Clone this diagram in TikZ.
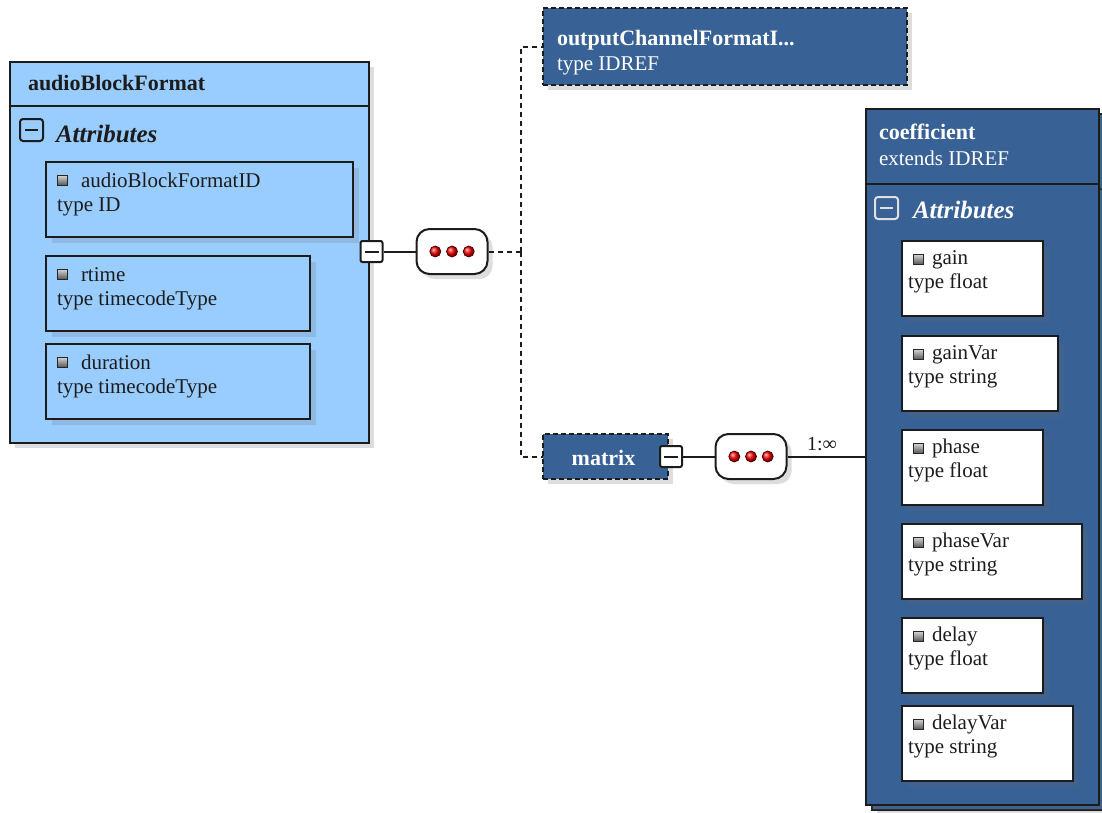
\documentclass[tikz,border=0pt]{standalone}
\usepackage{fontspec}
\setmainfont{Liberation Serif}
\usetikzlibrary{shadows}
\definecolor{lightbl}{RGB}{153,204,255}
\definecolor{darkbl}{RGB}{56,98,150}
\definecolor{ink}{RGB}{28,28,28}
\newcommand{\freg}{\fontsize{21}{24}\selectfont}
\newcommand{\fbold}{\fontsize{22}{24}\selectfont\bfseries}
\newcommand{\fattr}{\fontsize{25}{28}\selectfont\bfseries\itshape}
\tikzset{
  shad/.style={drop shadow={shadow xshift=5pt, shadow yshift=-5pt, opacity=0.22, fill=black!60}},
  elbox/.style={anchor=north west, inner sep=0pt, outer sep=0pt, draw=ink, line width=2pt, shad},
  lightbox/.style={elbox, fill=lightbl},
  darkbox/.style={elbox, fill=darkbl},
  refbox/.style={elbox, fill=darkbl, dash pattern=on 5pt off 3pt},
  attrbox/.style={anchor=north west, inner sep=0pt, outer sep=0pt, draw=ink, line width=2pt,
     drop shadow={shadow xshift=6pt, shadow yshift=-6pt, opacity=0.18, fill=black!60}, minimum height=75pt},
  txt/.style={anchor=base west, inner sep=0pt, outer sep=0pt, font=\freg, text=ink},
  ttl/.style={anchor=base west, inner sep=0pt, outer sep=0pt, font=\fbold, text=ink},
  atl/.style={anchor=base west, inner sep=0pt, outer sep=0pt, font=\fattr, text=ink},
  aicon/.style={minimum size=10pt, inner sep=0pt, draw=black!85, line width=0.7pt, top color=white!85!black, bottom color=black!65},
  toggle/.style={minimum width=22pt, minimum height=21pt, inner sep=0pt, draw=ink, fill=white, line width=2pt, rounded corners=2pt,
     path picture={\draw[ink, line width=2pt] ([xshift=4pt]path picture bounding box.west) -- ([xshift=-4pt]path picture bounding box.east);}},
  seqbox/.style={minimum width=71pt, minimum height=45pt, inner sep=0pt, draw=ink, fill=white, line width=2pt, rounded corners=13pt, shad},
  conn/.style={draw=ink, line width=2pt},
  dconn/.style={conn, dash pattern=on 5pt off 4pt},
}
\newcommand{\attrL}[6]{%
  \node[attrbox, fill=lightbl, minimum width=#4pt] (#1) at (#2,#3) {};
  \node[aicon] (#1i) at ([shift={(16.5,18)}]#1.north west) {};
  \node[txt] (#1n) at ([shift={(35,25)}]#1.north west) {#5};
  \node[txt] (#1t) at ([shift={(11,49)}]#1.north west) {type #6};
}
\newcommand{\attrR}[6]{%
  \node[attrbox, fill=white, minimum width=#4pt] (#1) at (#2,#3) {};
  \node[aicon] (#1i) at ([shift={(16,18)}]#1.north west) {};
  \node[txt] (#1n) at ([shift={(30,23)}]#1.north west) {#5};
  \node[txt] (#1t) at ([shift={(6,47)}]#1.north west) {type #6};
}
\newcommand{\ballset}[1]{%
  \foreach \d in {-16.7,0,16.7} {
    \shade[ball color=red] ([xshift=\d pt]#1.center) circle (5.5pt);
    \draw[red!25!black, line width=0.7pt] ([xshift=\d pt]#1.center) circle (5.5pt);
  }
}
\begin{document}
\begin{tikzpicture}[x=1pt,y=-1pt]
\useasboundingbox (0,0) rectangle (1102,812);
\fill[white] (0,0) rectangle (1102,812);
\clip (0,0) rectangle (1102,812);

% audioBlockFormat
\node[lightbox, minimum width=359pt, minimum height=381pt] (abf) at (10,62) {};
\draw[ink, line width=2pt] (10,106) -- (369,106);
\node[ttl] (abft) at (28,90) {audioBlockFormat};
\draw[ink, line width=2pt, rounded corners=3pt] (20,119) rectangle (43,141);
\draw[ink, line width=2pt] (25,130) -- (38,130);
\node[atl] (abfa) at (56,142) {Attributes};
\attrL{a1}{46}{162}{307}{audioBlockFormatID}{ID}
\attrL{a2}{46}{256}{264}{rtime}{timecodeType}
\attrL{a3}{46}{344}{264}{duration}{timecodeType}

% outputChannelFormatIDRef
\node[refbox, minimum width=364pt, minimum height=77pt] (oc) at (543,8) {};
\node[ttl, text=white] (oct) at (557,45) {outputChannelFormatI...};
\node[txt, text=white] (ocs) at (557,70) {type IDREF};

% matrix
\node[refbox, minimum width=125pt, minimum height=45pt] (mat) at (543,434) {};
\node[font=\fbold, text=white, inner sep=0pt] (matt) at ([xshift=-2pt,yshift=-1pt]mat.center) {matrix};

% coefficient (stacked)
\node[darkbox, minimum width=232pt, minimum height=696pt] (coefB) at (872,114) {};
\draw[ink, line width=2pt] (1099,189) -- (1104,189);
\node[darkbox, minimum width=233pt, minimum height=696pt] (coef) at (866,109) {};
\draw[ink, line width=2pt] (866,184) -- (1099,184);
\node[ttl, text=white] (coeft) at (879,139) {coefficient};
\node[txt, text=white] (coefs) at (879,165) {extends IDREF};
\draw[white!88!black, line width=2pt, rounded corners=3pt] (875,197) rectangle (898,219);
\draw[white!88!black, line width=2pt] (880,208) -- (893,208);
\node[atl, text=white] (coefa) at (913,218) {Attributes};
\attrR{c1}{902}{241}{141}{gain}{float}
\attrR{c2}{902}{336}{156}{gainVar}{string}
\attrR{c3}{902}{430}{141}{phase}{float}
\attrR{c4}{902}{524}{180}{phaseVar}{string}
\attrR{c5}{902}{618}{141}{delay}{float}
\attrR{c6}{902}{706}{171}{delayVar}{string}

% toggles and sequence compositors
\node[toggle] (abfT) at (371.5,251.5) {};
\node[seqbox] (seq1) at (452,251.5) {};
\ballset{seq1}
\node[toggle] (matT) at (671,456.5) {};
\node[seqbox] (seq2) at (751,456.5) {};
\ballset{seq2}

% connectors
\coordinate (j) at (521,251.5);
\draw[conn] (abfT) -- (seq1);
\draw[dconn] (seq1.east) -- (j);
\draw[dconn] (j) |- (oc.west);
\draw[dconn] (j) |- (mat.west);
\draw[conn] (matT) -- (seq2);
\draw[conn] (seq2.east) -- (seq2.east -| coef.west);
\node[font=\fontsize{20}{22}\selectfont, text=ink, inner sep=0pt] (card) at (822,444) {1:∞};
\end{tikzpicture}
\end{document}
